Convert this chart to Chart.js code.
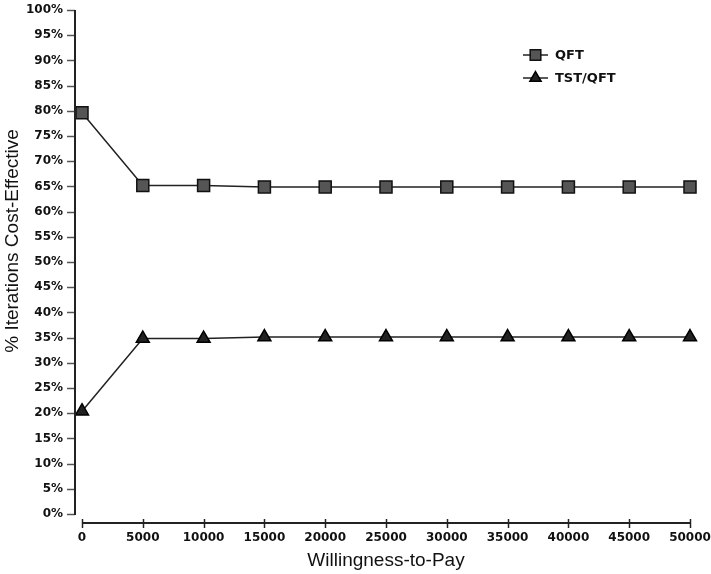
<!DOCTYPE html>
<html>
<head>
<meta charset="utf-8">
<script src="https://cdn.jsdelivr.net/npm/chart.js@4/dist/chart.umd.min.js"></script>
<style>
  html, body { margin: 0; padding: 0; background: #fff; }
  #wrap { width: 711px; height: 574px; }
</style>
</head>
<body>
<div id="wrap"><canvas id="myChart"></canvas></div>
<script>
// willingness-to-pay steps (x axis)
const wtp = [0, 5000, 10000, 15000, 20000, 25000, 30000, 35000, 40000, 45000, 50000];
// % of iterations cost-effective
const qftVals    = [79.6, 65.2, 65.2, 64.9, 64.9, 64.9, 64.9, 64.9, 64.9, 64.9, 64.9];
const tstQftVals = [20.4, 34.8, 34.8, 35.1, 35.1, 35.1, 35.1, 35.1, 35.1, 35.1, 35.1];
// y tick values (percent)
const yTicks = [0, 5, 10, 15, 20, 25, 30, 35, 40, 45, 50, 55, 60, 65, 70, 75, 80, 85, 90, 95, 100];

const seriesNames = ["QFT", "TST/QFT"];
const yTitle = "% Iterations Cost-Effective";

Chart.defaults.font.family = "'DejaVu Sans', sans-serif";
Chart.defaults.color = "#111";

// draws the detached axis lines, tick marks, y title and the legend box
const axesAndLegend = {
  id: "axesAndLegend",
  afterDraw(chart) {
    const ctx = chart.ctx;
    const area = chart.chartArea;
    const xs = chart.scales.x;
    const ys = chart.scales.y;
    ctx.save();

    // y axis
    const ax = area.left - 7;
    ctx.strokeStyle = "#555";
    ctx.lineWidth = 1.5;
    ys.ticks.forEach(t => {
      const py = Math.round(ys.getPixelForValue(t.value)) + 0.5;
      ctx.beginPath();
      ctx.moveTo(ax - 8, py);
      ctx.lineTo(ax, py);
      ctx.stroke();
    });
    ctx.strokeStyle = "#222";
    ctx.lineWidth = 2;
    ctx.beginPath();
    ctx.moveTo(ax, ys.getPixelForValue(100));
    ctx.lineTo(ax, ys.getPixelForValue(0) + 1);
    ctx.stroke();

    // x axis
    const ay = area.bottom + 9;
    ctx.beginPath();
    ctx.moveTo(xs.getPixelForTick(0), ay);
    ctx.lineTo(xs.getPixelForTick(wtp.length - 1), ay);
    ctx.stroke();
    ctx.lineWidth = 1.5;
    wtp.forEach((v, i) => {
      const px = Math.round(xs.getPixelForTick(i)) + 0.5;
      ctx.beginPath();
      ctx.moveTo(px, ay - 4);
      ctx.lineTo(px, ay + 5);
      ctx.stroke();
    });

    // y title (sits a bit above the middle in the original)
    ctx.save();
    ctx.translate(13, 241);
    ctx.rotate(-Math.PI / 2);
    ctx.fillStyle = "#111";
    ctx.font = "19px 'Liberation Sans', Arial, sans-serif";
    ctx.textAlign = "center";
    ctx.textBaseline = "middle";
    ctx.fillText(yTitle, 0, 0);
    ctx.restore();

    // legend
    const lx = area.right - 167;
    let ly = 55;
    chart.data.datasets.forEach(ds => {
      ctx.strokeStyle = "#222";
      ctx.lineWidth = 1.5;
      ctx.beginPath();
      ctx.moveTo(lx, ly);
      ctx.lineTo(lx + 25, ly);
      ctx.stroke();
      ctx.fillStyle = ds.pointBackgroundColor;
      ctx.strokeStyle = ds.pointBorderColor;
      ctx.lineWidth = ds.pointBorderWidth;
      Chart.helpers.drawPoint(ctx, {
        pointStyle: ds.pointStyle,
        radius: ds.pointRadius - 1,
        borderWidth: ds.pointBorderWidth,
        rotation: 0
      }, lx + 12.5, ly);
      ctx.fillStyle = "#111";
      ctx.font = "bold 13px 'DejaVu Sans'";
      ctx.textBaseline = "middle";
      ctx.textAlign = "left";
      ctx.fillText(ds.label, lx + 32, ly + 1);
      ly += 23;
    });
    ctx.restore();
  }
};

new Chart("myChart", {
  type: "line",
  data: {
    labels: wtp.map(String),
    datasets: [
      {
        label: seriesNames[0],
        data: qftVals,
        borderColor: "#222",
        borderWidth: 1.5,
        pointStyle: "rect",
        pointRadius: 8.5,
        pointBackgroundColor: "#555",
        pointBorderColor: "#111",
        pointBorderWidth: 1.5,
        clip: false
      },
      {
        label: seriesNames[1],
        data: tstQftVals,
        borderColor: "#222",
        borderWidth: 1.5,
        pointStyle: "triangle",
        pointRadius: 7.5,
        pointBackgroundColor: "#222",
        pointBorderColor: "#000",
        pointBorderWidth: 1.5,
        clip: false
      }
    ]
  },
  options: {
    responsive: true,
    maintainAspectRatio: false,
    animation: false,
    layout: { padding: { top: 8, right: 21, left: 0, bottom: 0 } },
    plugins: {
      legend: { display: false },
      tooltip: { enabled: false }
    },
    scales: {
      x: {
        type: "category",
        offset: false,
        grid: { display: false, drawTicks: false },
        border: { display: false },
        ticks: { padding: 17, maxRotation: 0, autoSkip: false, font: { size: 12, weight: "bold" }, color: "#111" },
        title: {
          display: true,
          text: "Willingness-to-Pay",
          font: { family: "'Liberation Sans', Arial, sans-serif", size: 19 },
          color: "#111",
          padding: { top: 0, bottom: 2 }
        },
        afterFit: s => { s.height = 60; s.paddingLeft = 0; s.paddingRight = 0; }
      },
      y: {
        min: 0,
        max: 100,
        grid: { display: false, drawTicks: false },
        border: { display: false },
        afterBuildTicks: s => { s.ticks = yTicks.map(v => ({ value: v })); },
        ticks: {
          padding: 19,
          font: { size: 12, weight: "bold" },
          color: "#111",
          callback: v => v + "%"
        },
        title: { display: false },
        afterFit: s => { s.width = 82; s.paddingTop = 0; s.paddingBottom = 0; }
      }
    }
  },
  plugins: [axesAndLegend]
});
</script>
</body>
</html>
